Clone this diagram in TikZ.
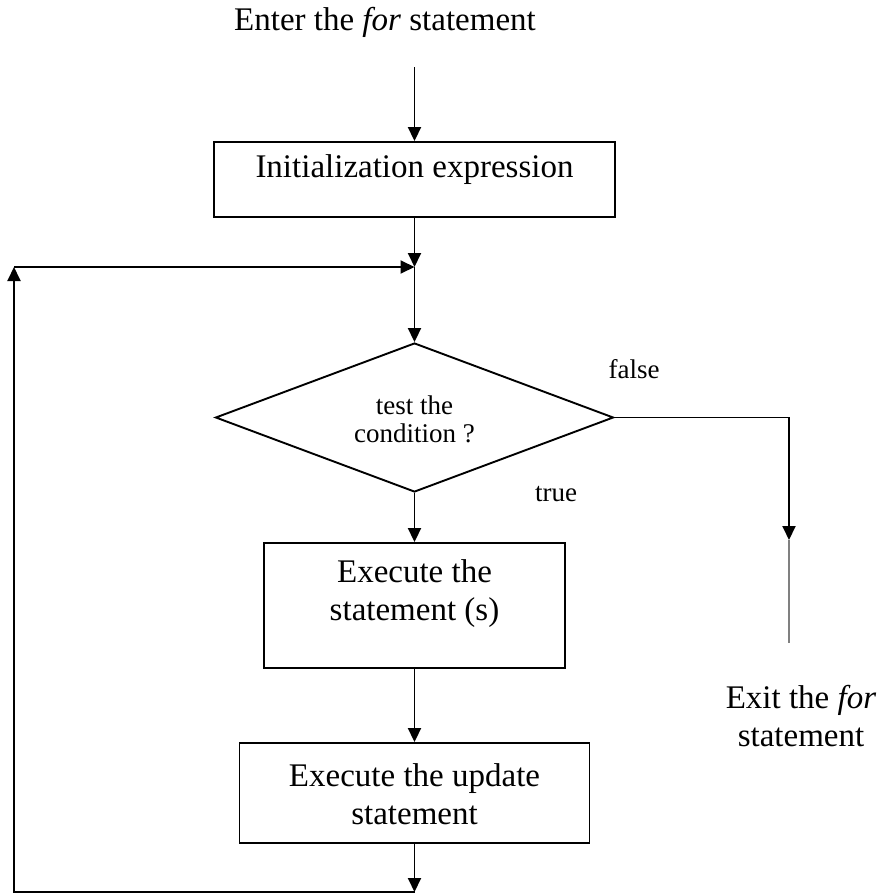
\documentclass[tikz,border=0pt]{standalone}
\usepackage{fontspec}
\setmainfont{Liberation Serif}
\usetikzlibrary{arrows.meta,shapes.geometric}
\tikzset{
  flow/.style={line width=1.9pt, draw=black},
  arr/.style={flow, -{Triangle[width=13pt,length=14pt]}},
  boxnode/.style={draw=black, line width=1.9pt, rectangle, inner sep=0pt},
  bigtext/.style={font=\fontsize{33}{38}\selectfont, align=center, inner sep=0pt},
  smalltext/.style={font=\fontsize{27}{28}\selectfont, align=center, inner sep=0pt},
}
\begin{document}
\begin{tikzpicture}[x=1pt, y=-1pt]
  \useasboundingbox (0,0) rectangle (879,894);

  % entry label
  \node[bigtext] (entry) at (385,22) {Enter the \textit{for} statement};
  \coordinate (start) at (414.5,67);

  % boxes and decision
  \node[boxnode, minimum width=401pt, minimum height=75pt] (init) at (414.5,179.5) {};
  \node[bigtext] (initt) at (414.5,170) {Initialization expression};

  \node[draw=black, line width=1.9pt, shape=diamond, inner sep=0pt,
        minimum width=398pt, minimum height=149pt] (cond) at (414.5,417.5) {};
  \node[smalltext] (condt) at (414.5,419) {test the\\condition ?};

  \node[boxnode, minimum width=301pt, minimum height=125pt] (exec) at (414.5,605.5) {};
  \node[bigtext] (exect) at (414.5,594) {Execute the\\statement (s)};

  \node[boxnode, minimum width=350pt, minimum height=100pt] (upd) at (414.5,793) {};
  \node[bigtext] (updt) at (414.5,794) {Execute the update\\statement};

  % branch labels
  \node[smalltext] (false) at (634,369) {false};
  \node[smalltext] (true) at (556,494) {true};

  % exit label
  \node[bigtext] (exitt) at (801,716) {Exit the \textit{for}\\statement};

  % helper points
  \coordinate (join) at (414.5,267);
  \coordinate (bot) at (414.5,892);
  \coordinate (lc) at (14,267);
  \coordinate (ex) at (789,540);
  \coordinate (exend) at (789,643);

  % main flow
  \draw[arr] (start) -- (init.north);
  \draw[arr] (init.south) -- (join);
  \draw[arr] (join) -- (cond.north);
  \draw[arr] (cond.south) -- (exec.north);
  \draw[arr] (exec.south) -- (upd.north);
  \draw[arr] (upd.south) -- (bot);

  % loop back
  \draw[arr] (bot) -| (lc);
  \draw[arr] (lc) -- (join);

  % exit branch
  \draw[arr] (cond.east) -| (ex);
  \draw[line width=2pt, draw=black!50] (ex) -- (exend);
\end{tikzpicture}
\end{document}
